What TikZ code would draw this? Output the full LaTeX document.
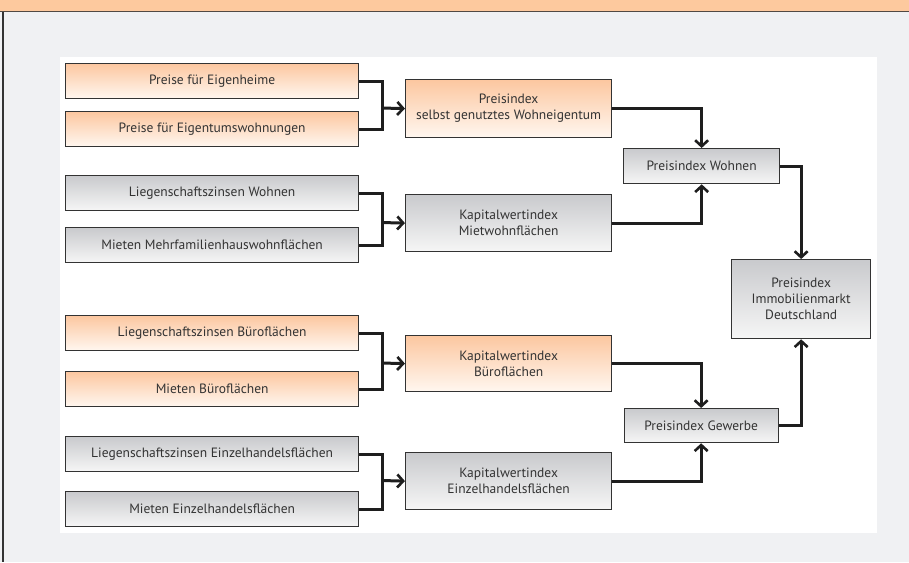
\documentclass[tikz,border=0pt]{standalone}
\usepackage{fontspec}
\setmainfont{PT Sans}
\usetikzlibrary{arrows.meta}
\definecolor{bgcol}{HTML}{F0F1F3}
\definecolor{barcol}{HTML}{FDC99E}
\definecolor{orTop}{HTML}{FCC7A0}
\definecolor{orBot}{HTML}{FFF7F0}
\definecolor{grTop}{HTML}{C9CACD}
\definecolor{grBot}{HTML}{F6F6F6}
\definecolor{edgecol}{HTML}{333333}
\definecolor{txtcol}{HTML}{333333}
\definecolor{linecol}{HTML}{1E1E1E}
\tikzset{
  box/.style={draw=edgecol, line width=1.3pt, anchor=north west, inner sep=0pt,
    align=center, text=txtcol, font=\fontsize{13.5}{16}\selectfont},
  obox/.style={box, top color=orTop, bottom color=orBot},
  gbox/.style={box, top color=grTop, bottom color=grBot},
  conn/.style={draw=linecol, line width=3pt},
  arr/.style={conn, -{Straight Barb[length=6pt,width=13pt,line width=2.6pt]}}
}
\begin{document}
\begin{tikzpicture}[x=1pt,y=-1pt]
\fill[bgcol] (0,0) rectangle (909,562);
\useasboundingbox (0,0) rectangle (909,562);
\fill[barcol] (0,0) rectangle (909,11);
\draw[edgecol!85!barcol, line width=1.6pt] (0,11.5) -- (909,11.5);
\draw[edgecol, line width=1.5pt] (3,11.5) -- (3,562);
\fill[white] (60,57) rectangle (877,533);

% left column
\node[obox, minimum width=293pt, minimum height=35pt] (e1) at (65,63) {Preise für Eigenheime};
\node[obox, minimum width=293pt, minimum height=35pt] (e2) at (65,111) {Preise für Eigentumswohnungen};
\node[gbox, minimum width=293pt, minimum height=35pt] (w1) at (65,175) {Liegenschaftszinsen Wohnen};
\node[gbox, minimum width=293pt, minimum height=35pt] (w2) at (65,227) {Mieten Mehrfamilienhauswohnflächen};
\node[obox, minimum width=293pt, minimum height=35pt] (b1) at (65,315) {Liegenschaftszinsen Büroflächen};
\node[obox, minimum width=293pt, minimum height=35pt] (b2) at (65,371) {Mieten Büroflächen};
\node[gbox, minimum width=293pt, minimum height=35pt] (h1) at (65,436) {Liegenschaftszinsen Einzelhandelsflächen};
\node[gbox, minimum width=293pt, minimum height=35pt] (h2) at (65,491) {Mieten Einzelhandelsflächen};

% middle column
\node[obox, minimum width=206pt, minimum height=58pt] (m1) at (405,79) {Preisindex\\selbst genutztes Wohneigentum};
\node[gbox, minimum width=206pt, minimum height=57pt] (m2) at (405,194) {Kapitalwertindex\\Mietwohnflächen};
\node[obox, minimum width=206pt, minimum height=56pt] (m3) at (405,335) {Kapitalwertindex\\Büroflächen};
\node[gbox, minimum width=206pt, minimum height=57pt] (m4) at (405,452) {Kapitalwertindex\\Einzelhandelsflächen};

% right
\node[gbox, minimum width=156pt, minimum height=35pt] (pw) at (623,148) {Preisindex Wohnen};
\node[gbox, minimum width=154pt, minimum height=34pt] (pg) at (623.5,408) {Preisindex Gewerbe};
\node[gbox, minimum width=139pt, minimum height=79pt] (pi) at (731,259) {Preisindex\\Immobilienmarkt\\Deutschland};

% junctions
\coordinate (j1) at (382,108);
\coordinate (j2) at (382,222.5);
\coordinate (j3) at (382,363);
\coordinate (j4) at (382,480.5);

\draw[conn] (e1.east) -| (j1) |- (e2.east);
\draw[arr] (j1) -- (m1.west);
\draw[conn] (w1.east) -| (j2) |- (w2.east);
\draw[arr] (j2) -- (m2.west);
\draw[conn] (b1.east) -| (j3) |- (b2.east);
\draw[arr] (j3) -- (m3.west);
\draw[conn] (h1.east) -| (j4) |- (h2.east);
\draw[arr] (j4) -- (m4.west);

\draw[arr] (m1.east) -| (pw.north);
\draw[arr] (m2.east) -| (pw.south);
\draw[arr] (m3.east) -| (pg.north);
\draw[arr] (m4.east) -| (pg.south);
\draw[arr] (pw.east) -| (pi.north);
\draw[arr] (pg.east) -| (pi.south);
\end{tikzpicture}
\end{document}
